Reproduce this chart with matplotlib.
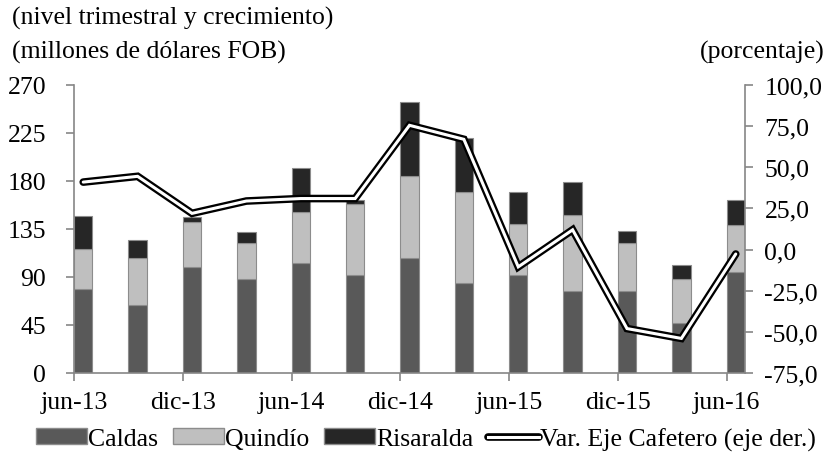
import matplotlib
matplotlib.use("Agg")
import matplotlib.pyplot as plt
import numpy as np
from matplotlib.patches import Patch
from matplotlib.lines import Line2D
import matplotlib.patheffects as pe

plt.rcParams['font.family'] = ['Liberation Serif', 'DejaVu Serif']

periods = ["jun-13", "sep-13", "dic-13", "mar-14", "jun-14", "sep-14", "dic-14",
           "mar-15", "jun-15", "sep-15", "dic-15", "mar-16", "jun-16"]
caldas = [79, 64, 99, 88, 103, 92, 108, 84, 92, 77, 77, 47, 95]
quindio = [37, 44, 43, 34, 48, 66, 77, 86, 48, 71, 45, 41, 44]
risaralda = [31, 17, 4, 10, 41, 4, 69, 50, 30, 31, 11, 13, 23]
variacion = [41.0, 44.5, 22.0, 29.5, 31.0, 31.0, 75.5, 67.0, -10.5, 12.0, -48.0, -54.0, -2.7]

fs = 18.5

fig = plt.figure(figsize=(8.3, 4.6), dpi=100)
ax = fig.add_axes([74/830, 1-374/460, (745-74)/830, (374-86)/460])
ax2 = ax.twinx()

x = np.arange(len(periods))
w = 0.34
c1, c2, c3 = "#595959", "#BFBFBF", "#262626"
ec = "#8c8c8c"
ax.bar(x, caldas, w, color=c1, edgecolor=ec, linewidth=0.8, zorder=2)
ax.bar(x, quindio, w, bottom=caldas, color=c2, edgecolor=ec, linewidth=0.8, zorder=2)
bot2 = np.array(caldas) + np.array(quindio)
ax.bar(x, risaralda, w, bottom=bot2, color=c3, edgecolor=ec, linewidth=0.8, zorder=2)

ax2.plot(x, variacion, color="black", lw=5.5, solid_capstyle="round", solid_joinstyle="miter", zorder=3)
ax2.plot(x, variacion, color="white", lw=2.2, solid_capstyle="round", solid_joinstyle="miter", zorder=4)

ax.set_xlim(-w/2, 12 + w/2)
ax.set_ylim(0, 270)
ax.set_yticks(np.arange(0, 271, 45))
ax2.set_ylim(-75, 100)
ax2.set_yticks(np.arange(-75, 101, 25))
ax2.set_yticklabels([f"{v:.1f}".replace(".", ",") for v in np.arange(-75, 101, 25)])

ax.set_xticks(x[::2] - w/2)
ax.set_xticklabels(periods[::2])

gray = "#868686"
for a in (ax, ax2):
    a.spines['top'].set_visible(False)
    for s in ('left', 'right', 'bottom'):
        a.spines[s].set_color(gray)
        a.spines[s].set_linewidth(1.2)
    a.tick_params(colors=gray, labelcolor="black", labelsize=fs, width=1.2, length=6)
ax.spines['right'].set_visible(False)
ax2.spines['left'].set_visible(False)
ax2.spines['bottom'].set_visible(False)
ax.tick_params(axis='y', pad=14)
ax2.tick_params(axis='y', pad=8)
ax.tick_params(axis='x', pad=7)

fig.text(12/830, 1-18/460, "(nivel trimestral y crecimiento)", fontsize=fs, va="center", ha="left")
fig.text(12/830, 1-52/460, "(millones de dólares FOB)", fontsize=fs, va="center", ha="left")
fig.text(825/830, 1-52/460, "(porcentaje)", fontsize=fs, va="center", ha="right")

line_handle = Line2D([0], [0], color="white", lw=2.2,
                     path_effects=[pe.Stroke(linewidth=5.5, foreground="black", capstyle="round"), pe.Normal()])
handles = [Patch(facecolor=c1, edgecolor=ec), Patch(facecolor=c2, edgecolor=ec),
           Patch(facecolor=c3, edgecolor=ec), line_handle]
labels = ["Caldas", "Quindío", "Risaralda", "Var. Eje Cafetero (eje der.)"]
fig.legend(handles, labels, loc="center", bbox_to_anchor=(426/830, 1-440/460), ncol=4,
           frameon=False, fontsize=fs, handlelength=2.0, handleheight=0.55,
           handletextpad=0.05, columnspacing=0.55, borderaxespad=0, borderpad=0)

fig.savefig("out.png", dpi=100)
